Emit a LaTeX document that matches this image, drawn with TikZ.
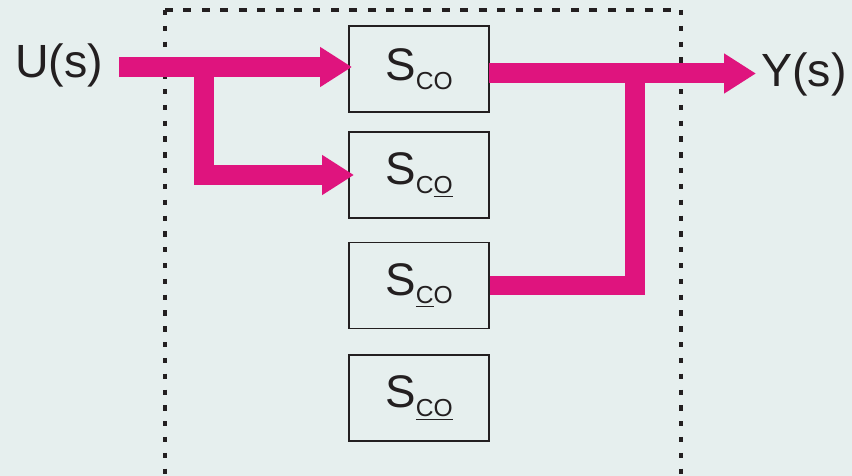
\documentclass[tikz,border=0pt]{standalone}
\usepackage{fontspec}
\setmainfont{Liberation Sans}
\usetikzlibrary{arrows.meta}
\definecolor{bgc}{RGB}{230,239,238}
\definecolor{mag}{RGB}{223,20,126}
\definecolor{ink}{RGB}{35,31,32}
\newcommand{\sco}[1]{S\raisebox{-5pt}{\fontsize{14}{14}\selectfont #1}}
\begin{document}
\begin{tikzpicture}[x=0.02cm,y=-0.02cm,
  blk/.style={draw=ink,line width=0.9pt,minimum width=2.8cm,minimum height=1.72cm,inner sep=0pt,font=\fontsize{26}{26}\selectfont,text=ink},
  lbl/.style={font=\fontsize{26.5}{26.5}\selectfont,text=ink,inner sep=0pt},
  band/.style={draw=mag,line width=0.4cm,line join=miter},
  arr/.style={band,-{Triangle[length=0.64cm,width=0.76cm]}},
  frameH/.style={draw=ink,line width=1.8pt,dash pattern=on 4.5pt off 6pt},
  frameV/.style={draw=ink,line width=2pt,dash pattern=on 3pt off 6pt}]
\fill[bgc] (0,0) rectangle (852,476);
\useasboundingbox (0,0) rectangle (852,476);
% dashed frame
\coordinate (ftl) at (165,10);
\coordinate (ftr) at (681,10);
\coordinate (fbl) at (165,480);
\coordinate (fbr) at (681,480);
\draw[frameH] (ftl) -- (ftr);
\draw[frameV] (ftl) -- (fbl);
\draw[frameV] (ftr) -- (fbr);
% blocks
\node[blk] (b1) at (419,69) {\sco{CO}};
\node[blk] (b2) at (419,175) {\sco{C\underline{O}}};
\node[blk] (b3) at (419,285.5) {\sco{\underline{C}O}};
\node[blk] (b4) at (419,398) {\sco{\underline{CO}}};
% labels
\node[lbl] (u) at (59,65) {U(s)};
\node[lbl] (y) at (804,74) {Y(s)};
% connectors
\coordinate (uin) at (119,67);
\coordinate (split) at (204,67);
\coordinate (b1in) at (352,67);
\coordinate (b2in) at (354,175);
\coordinate (b1out) at (489,73.5);
\coordinate (yout) at (756,73.5);
\coordinate (join) at (634.5,73.5);
\draw[arr] (uin) -- (b1in);
\draw[arr] (split) |- (b2in);
\draw[arr] (b1out) -- (yout);
\draw[band] (b3.east) -| (join);
\end{tikzpicture}
\end{document}
